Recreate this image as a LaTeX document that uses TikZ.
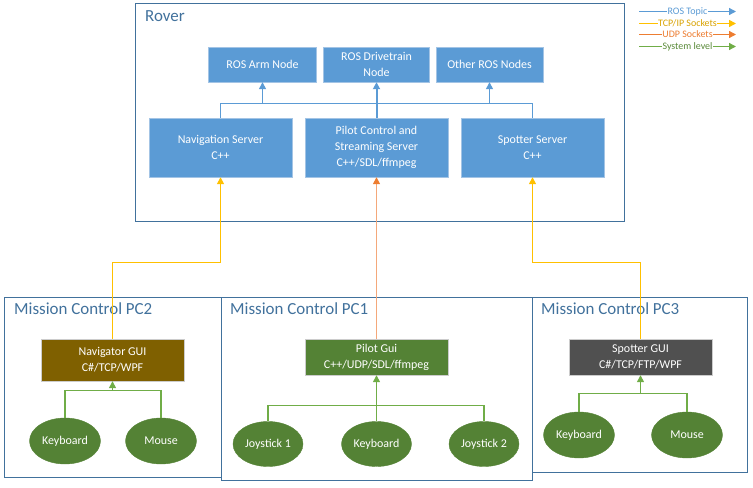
\documentclass[tikz,border=0pt]{standalone}
\usepackage{fontspec}
\setmainfont{Carlito}
\usetikzlibrary{arrows.meta,shapes.geometric}
\definecolor{rosblue}{HTML}{5B9BD5}
\definecolor{rosedge}{HTML}{A3C4E5}
\definecolor{frameblue}{HTML}{41719C}
\definecolor{tcpyellow}{HTML}{FFC000}
\definecolor{udporange}{HTML}{ED7D31}
\definecolor{udplight}{HTML}{F4A87A}
\definecolor{sysgreen}{HTML}{70AD47}
\definecolor{darkgreen}{HTML}{548235}
\definecolor{navbrown}{HTML}{7F6000}
\definecolor{spotgray}{HTML}{505050}
\tikzstyle{tip}=[-{Triangle[width=7bp,length=7bp]}]
\tikzstyle{frame}=[rectangle, draw=frameblue, line width=1bp, inner sep=0pt]
\tikzstyle{title}=[anchor=north west, inner sep=0pt, text=frameblue, font=\fontsize{17}{19}\selectfont]
\tikzstyle{rosbox}=[rectangle, draw=rosedge, fill=rosblue, text=white, align=center, inner sep=0pt, minimum height=35bp, font=\fontsize{12}{16}\selectfont]
\tikzstyle{server}=[rosbox, minimum width=143bp, minimum height=59bp]
\tikzstyle{gui}=[rectangle, draw=white!80!black, text=white, align=center, inner sep=0pt, minimum width=143bp, minimum height=36bp, font=\fontsize{12}{16}\selectfont]
\tikzstyle{device}=[ellipse, draw=darkgreen, fill=darkgreen, text=white, inner sep=0pt, minimum width=71bp, minimum height=46bp, font=\fontsize{12}{14}\selectfont]
\tikzstyle{topic}=[draw=rosblue, line width=1.3bp]
\tikzstyle{tcp}=[draw=tcpyellow, line width=1.5bp]
\tikzstyle{udp}=[draw=udplight, line width=1.5bp]
\tikzstyle{syslvl}=[draw=sysgreen, line width=1.3bp]
\tikzstyle{legend}=[fill=white, inner sep=0.5bp, font=\fontsize{10}{11}\selectfont]

\begin{document}
\begin{tikzpicture}[x=1bp, y=-1bp]
    \useasboundingbox (0,0) rectangle (753,488);
    % rover side
    \node[frame, minimum width=488bp, minimum height=217bp] (rover) at (380,112.5) {};
    \node[title] (rovert) at (145,10) {Rover};
    \node[rosbox, minimum width=108bp] (arm) at (262.5,64.5) {ROS Arm Node};
    \node[rosbox, minimum width=106bp] (drive) at (376.5,64.5) {ROS Drivetrain\\Node};
    \node[rosbox, minimum width=107bp] (other) at (489.5,64.5) {Other ROS Nodes};
    \node[server] (nav) at (220.5,147.5) {Navigation Server\\C++};
    \node[server] (pilot) at (376.5,147.5) {Pilot Control and\\Streaming Server\\C++/SDL/ffmpeg};
    \node[server] (spotter) at (532.5,147.5) {Spotter Server\\C++};
    \coordinate (bus) at (376.5,103.5);
    \draw[topic] (nav.north) |- (bus) -| (spotter.north);
    \draw[topic, tip] (arm.south |- bus) -- (arm.south);
    \draw[topic, tip, line width=2bp] (pilot.north) -- (drive.south);
    \draw[topic, tip] (other.south |- bus) -- (other.south);

    % mission control side
    \node[frame, minimum width=216bp, minimum height=179bp] (pc2) at (113,387.5) {};
    \node[frame, minimum width=215bp, minimum height=174bp] (pc3) at (639.5,385) {};
    \node[frame, minimum width=311bp, minimum height=182bp] (pc1) at (376.5,389) {};
    \node[title] (pc2t) at (14,303) {Mission Control PC2};
    \node[title] (pc1t) at (230,303) {Mission Control PC1};
    \node[title] (pc3t) at (541,303) {Mission Control PC3};

    \node[gui, fill=navbrown, minimum height=42bp] (navgui) at (112.5,360) {Navigator GUI\\C\#/TCP/WPF};
    \node[gui, fill=darkgreen] (pilotgui) at (376.5,357) {Pilot Gui\\C++/UDP/SDL/ffmpeg};
    \node[gui, fill=spotgray] (spotgui) at (640.5,357) {Spotter GUI\\C\#/TCP/FTP/WPF};

    \node[device] (key2) at (65,441) {Keyboard};
    \node[device] (mouse2) at (161,441) {Mouse};
    \node[device, minimum width=70bp, minimum height=45bp] (joy1) at (268,444) {Joystick 1};
    \node[device, minimum width=70bp, minimum height=45bp] (key1) at (376.5,444) {Keyboard};
    \node[device, minimum width=70bp, minimum height=45bp] (joy2) at (484,444) {Joystick 2};
    \node[device] (key3) at (579,435) {Keyboard};
    \node[device] (mouse3) at (687,435) {Mouse};

    \coordinate (j2) at (112.5,390.5);
    \coordinate (j1) at (376.5,405.5);
    \coordinate (j3) at (640.5,393.5);
    \draw[syslvl] (key2.north) |- (j2) -| (mouse2.north);
    \draw[syslvl, tip] (j2) -- (navgui.south);
    \draw[syslvl] (joy1.north) |- (j1) -| (joy2.north);
    \draw[syslvl, tip] (key1.north) -- (pilotgui.south);
    \draw[syslvl] (key3.north) |- (j3) -| (mouse3.north);
    \draw[syslvl, tip] (j3) -- (spotgui.south);

    % sockets between the two sides
    \draw[tcp, tip] (navgui.north) -- ++(0,-76.5) -| (nav.south);
    \draw[udp, -{Triangle[width=7bp,length=7bp,color=udporange]}] (pilotgui.north) -- (pilot.south);
    \draw[tcp, tip] (spotgui.north) -- ++(0,-76.5) -| (spotter.south);

    % legend
    \coordinate (lg1a) at (639,11.5);  \coordinate (lg1b) at (736,11.5);
    \coordinate (lg2a) at (639,23.5);  \coordinate (lg2b) at (736,23.5);
    \coordinate (lg3a) at (639,34.5);\coordinate (lg3b) at (736,34.5);
    \coordinate (lg4a) at (639,46.5);  \coordinate (lg4b) at (736,46.5);
    \draw[topic, tip] (lg1a) -- node[legend, text=rosblue] {ROS Topic} (lg1b);
    \draw[tcp, tip] (lg2a) -- node[legend, text=tcpyellow!85!black] {TCP/IP Sockets} (lg2b);
    \draw[draw=udporange, line width=1.3bp, tip] (lg3a) -- node[legend, text=udporange] {UDP Sockets} (lg3b);
    \draw[syslvl, tip] (lg4a) -- node[legend, text=sysgreen!80!black] {System level} (lg4b);
\end{tikzpicture}
\end{document}
